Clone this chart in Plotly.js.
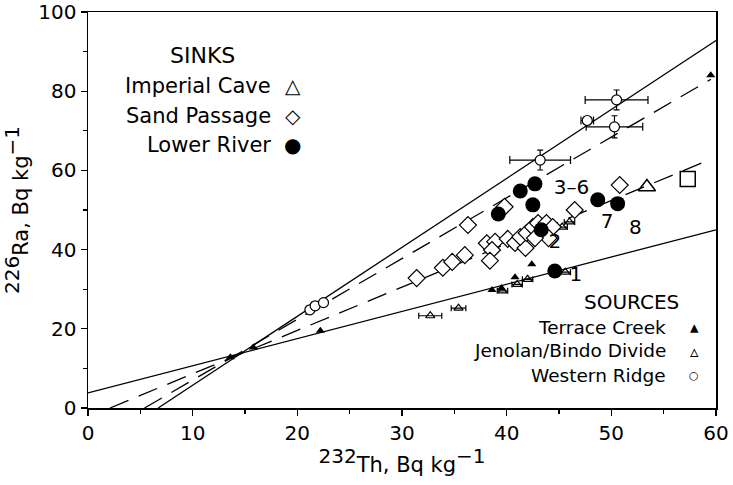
<!DOCTYPE html>
<html><head><meta charset="utf-8">
<script src="https://cdn.plot.ly/plotly-3.0.1.min.js"></script>
<style>body{margin:0;background:#fff}#c{width:733px;height:485px}</style>
</head><body><div id="c"></div>
<script>
// Regression / mixing lines (endpoints)
const steepX = [6.7, 60], steepY = [0, 92.8];
const lowX = [0, 60], lowY = [3.8, 45];
const dashUpX = [5.4, 59.5], dashUpY = [0, 83];
const dashLoX = [2.1, 59.5], dashLoY = [0, 62.8];

// Sources
const terraceX = [13.6, 15.8, 22.2, 38.6, 39.5, 40.8, 42.4, 59.5];
const terraceY = [12.8, 15.3, 19.5, 29.8, 30.3, 33.0, 36.3, 84];
const jenolanX = [32.7, 35.4, 39.6, 41.0, 42.0, 45.6, 45.3, 46.0];
const jenolanY = [23.3, 25.2, 29.6, 31.2, 32.5, 34.3, 45.7, 47.0];
const jenolanErr = [1.1, 0.7, 0.5, 0.5, 0.5, 0.5, 0.5, 0.5];
const westernX = [21.2, 21.7, 22.5, 43.2, 47.7, 50.5, 50.3];
const westernY = [24.8, 25.8, 26.6, 62.6, 72.6, 77.8, 71.0];
const westernErrX = [0, 0, 0, 2.9, 0.6, 3.0, 2.7];
const westernErrY = [0, 0, 0, 2.5, 0, 2.5, 2.8];

// Sinks
const imperialX = [53.4], imperialY = [55.8];
const sandX = [31.4, 33.9, 34.8, 36.0, 36.3, 38.1, 38.9, 38.6, 38.4, 39.8, 40.1, 40.8, 41.8, 41.3, 41.9, 42.5, 43.0, 43.8, 44.4, 44.0, 42.7, 46.5, 50.8];
const sandY = [32.8, 35.4, 36.9, 38.6, 46.2, 41.6, 42.0, 39.9, 37.2, 50.8, 42.7, 41.7, 40.4, 43.2, 44.2, 45.7, 46.7, 46.7, 45.7, 42.9, 42.9, 50.0, 56.3];
const lowerX = [44.6, 43.3, 42.7, 41.3, 42.5, 39.2, 48.7, 50.6];
const lowerY = [34.6, 45.0, 56.6, 54.8, 51.3, 49.0, 52.6, 51.6];
const squareX = [57.3], squareY = [57.8];

// Point labels
const labTxt = ["1", "2", "3–6", "7", "8"];
const labX = [46.6, 44.6, 46.2, 49.6, 52.3];
const labY = [33.4, 41.6, 55.4, 46.8, 45.2];

// Legend text
const sinkTitle = "SINKS", sinkNames = ["Imperial Cave", "Sand Passage", "Lower River"], sinkSyms = ["△", "◇", "●"];
const srcTitle = "SOURCES", srcNames = ["Terrace Creek", "Jenolan/Bindo Divide", "Western Ridge"], srcSyms = ["▴", "▵", "○"];

const F = "DejaVu Sans, sans-serif";
const ln = (x, y, dash) => ({x, y, mode: "lines", line: {color: "#000", width: 1.3, dash: dash}, hoverinfo: "skip", showlegend: false});
const data = [
  ln(steepX, steepY, "solid"),
  ln(lowX, lowY, "solid"),
  ln(dashUpX, dashUpY, "20px,11px"),
  ln(dashLoX, dashLoY, "20px,11px"),
  {x: terraceX, y: terraceY, mode: "markers", marker: {symbol: "triangle-up", size: 8, color: "#000"}, showlegend: false},
  {x: jenolanX, y: jenolanY, mode: "markers", marker: {symbol: "triangle-up-open", size: 8, color: "#000", line: {width: 1.2}},
   error_x: {type: "data", array: jenolanErr, color: "#000", thickness: 1.2, width: 3}, showlegend: false},
  {x: westernX, y: westernY, mode: "markers", marker: {symbol: "circle", size: 10, color: "#fff", line: {color: "#000", width: 1.2}},
   error_x: {type: "data", array: westernErrX, color: "#000", thickness: 1.2, width: 4},
   error_y: {type: "data", array: westernErrY, color: "#000", thickness: 1.2, width: 3}, showlegend: false},
  {x: sandX, y: sandY, mode: "markers", marker: {symbol: "diamond", size: 13, color: "#fff", line: {color: "#000", width: 1.2}}, showlegend: false},
  {x: imperialX, y: imperialY, mode: "markers", marker: {symbol: "triangle-up-open", size: 15, color: "#000", line: {width: 1.5}}, showlegend: false},
  {x: squareX, y: squareY, mode: "markers", marker: {symbol: "square-open", size: 15, color: "#000", line: {width: 1.5}}, showlegend: false},
  {x: lowerX, y: lowerY, mode: "markers", marker: {symbol: "circle", size: 15, color: "#000"}, showlegend: false},
  {x: labX, y: labY, mode: "text", text: labTxt, textfont: {family: F, size: 20, color: "#000"}, showlegend: false}
];

const ann = (text, x, y, xanchor, size) => ({text, x, y, xref: "paper", yref: "paper", xanchor, yanchor: "middle", showarrow: false, font: {family: F, size: size, color: "#000"}});
const anns = [ann(sinkTitle, 0.182, 0.89, "center", 22), ann(srcTitle, 0.866, 0.268, "center", 20)];
const sinkY = [0.813, 0.737, 0.664], srcY = [0.2045, 0.144, 0.083];
const srcSymSize = [17, 17, 11];
sinkNames.forEach((n, i) => { anns.push(ann(n, 0.2946, sinkY[i], "right", 21)); anns.push(ann(sinkSyms[i], 0.3264, sinkY[i], "center", 20)); });
srcNames.forEach((n, i) => { anns.push(ann(n, 0.9236, srcY[i], "right", 18.5)); anns.push(ann(srcSyms[i], 0.965, srcY[i], "center", srcSymSize[i])); });

const big = s => '<sup><span style="font-size:20px">' + s + '</span></sup>';
const layout = {
  width: 733, height: 485,
  margin: {l: 88, r: 17, t: 12, b: 77},
  paper_bgcolor: "#fff", plot_bgcolor: "#fff",
  font: {family: F, color: "#000"},
  xaxis: {range: [0, 60], dtick: 10, ticks: "outside", ticklen: 6, tickwidth: 1.3, tickcolor: "#000",
    minor: {dtick: 5, ticks: "outside", ticklen: 4, tickcolor: "#000"},
    showgrid: false, zeroline: false, showline: true, linecolor: "#000", linewidth: 1.5, mirror: true,
    tickfont: {family: F, size: 20}, title: {text: big("232") + "Th, Bq kg" + big("−1"), font: {family: F, size: 21}, standoff: 6}},
  yaxis: {range: [0, 100], dtick: 20, ticks: "outside", ticklen: 6, tickwidth: 1.3, tickcolor: "#000",
    minor: {dtick: 10, ticks: "outside", ticklen: 4, tickcolor: "#000"},
    showgrid: false, zeroline: false, showline: true, linecolor: "#000", linewidth: 1.5, mirror: true,
    tickfont: {family: F, size: 20}, title: {text: big("226") + "Ra, Bq kg" + big("−1"), font: {family: F, size: 21}, standoff: 8}},
  annotations: anns
};
Plotly.newPlot("c", data, layout, {displayModeBar: false, staticPlot: true});
</script></body></html>
